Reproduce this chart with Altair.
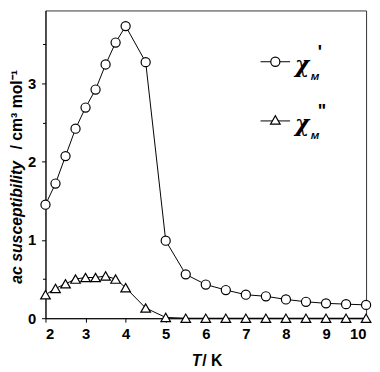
import altair as alt
import pandas as pd

T = [2, 2.25, 2.5, 2.75, 3, 3.25, 3.5, 3.75, 4, 4.5, 5, 5.5, 6, 6.5, 7, 7.5, 8, 8.5, 9, 9.5, 10]
chi_real = [1.45, 1.72, 2.07, 2.42, 2.69, 2.92, 3.24, 3.52, 3.73, 3.27, 0.99, 0.56, 0.43, 0.36, 0.30, 0.28, 0.24, 0.21, 0.19, 0.18, 0.17]
chi_imag = [0.30, 0.38, 0.44, 0.50, 0.52, 0.52, 0.54, 0.50, 0.39, 0.13, 0.01, 0.0, 0.0, 0.0, 0.0, 0.0, 0.0, 0.0, 0.0, 0.0, 0.0]

x_ticks = [2 + 0.25 * i for i in range(33)]
y_ticks = [0.25 * i for i in range(16)]

df = pd.DataFrame({"T": T, "re": chi_real, "im": chi_imag})

FONT = "Liberation Sans"
W, H = 325, 312
xs = alt.Scale(domain=[2, 10], nice=False, zero=False)
ys = alt.Scale(domain=[0, 3.93], nice=False, zero=False)

major_test = "abs(datum.value - round(datum.value)) < 0.001"
axis_common = dict(labelFont=FONT, labelFontSize=15, labelFontWeight="bold", labelColor="#000",
                   domainColor="#000", tickColor="#000", grid=False, title=None, labelOverlap=False,
                   labelExpr=f"{major_test} ? format(datum.value, 'd') : ''",
                   tickSize={"condition": {"test": major_test, "value": 4}, "value": 3})

base = alt.Chart(df)

x_enc = alt.X("T:Q", scale=xs, axis=alt.Axis(values=x_ticks, orient="bottom", labelPadding=5, **axis_common))
y_enc = alt.Y("re:Q", scale=ys, axis=alt.Axis(values=y_ticks, orient="left", labelPadding=6, **axis_common))

line_re = base.mark_line(color="#000", strokeWidth=1, clip=False).encode(x=x_enc, y=y_enc)
pts_re = base.mark_point(shape="circle", size=85, filled=True, fill="#fff", stroke="#000",
                         strokeWidth=1.2, opacity=1, clip=False).encode(x="T:Q", y="re:Q")
line_im = base.mark_line(color="#000", strokeWidth=1, clip=False).encode(x="T:Q", y="im:Q")
pts_im = base.mark_point(shape="triangle-up", size=95, filled=True, fill="#fff", stroke="#000",
                         strokeWidth=1.2, opacity=1, clip=False).encode(x="T:Q", y="im:Q")


def txt(s, x, y, font=FONT, **kw):
    return alt.Chart(pd.DataFrame({"t": [s]})).mark_text(font=font, fontWeight="bold", color="#000", **kw).encode(
        text="t:N", x=alt.value(x), y=alt.value(y))


# axis titles (mixed italic / upright)
xt1 = txt("T", 158, 355, fontSize=16, fontStyle="italic", align="right", baseline="middle")
xt2 = txt("/ K", 159, 355, fontSize=16, align="left", baseline="middle")
yt1 = txt("ac susceptibility", -29, 277, fontSize=16, fontStyle="italic", angle=270, align="left", baseline="middle")
yt2 = txt("/ cm³ mol⁻¹", -29, 141, fontSize=16, angle=270, align="left", baseline="middle")


# legend
def seg(x1, x2, y):
    return alt.Chart(pd.DataFrame({"a": [0]})).mark_rule(color="#000", strokeWidth=1).encode(
        x=alt.value(x1), x2=alt.value(x2), y=alt.value(y))


def sym(shape, x, y, size):
    return alt.Chart(pd.DataFrame({"a": [0]})).mark_point(shape=shape, size=size, filled=True, fill="#fff",
                                                           stroke="#000", strokeWidth=1.2, opacity=1).encode(
        x=alt.value(x), y=alt.value(y))


SERIF = "DejaVu Serif"
leg = [
    seg(218, 248, 52), sym("circle", 233, 52, 85),
    txt("χ", 253, 55, font=SERIF, fontSize=22, fontStyle="italic", align="left", baseline="middle"),
    txt("M", 269, 67, fontSize=10, fontStyle="italic", align="left", baseline="middle"),
    txt("'", 276, 43, fontSize=18, align="left", baseline="middle"),
    seg(218, 248, 112), sym("triangle-up", 233, 111, 95),
    txt("χ", 253, 115, font=SERIF, fontSize=22, fontStyle="italic", align="left", baseline="middle"),
    txt("M", 269, 127, fontSize=10, fontStyle="italic", align="left", baseline="middle"),
    txt("\"", 276, 103, fontSize=18, align="left", baseline="middle"),
]

chart = alt.layer(line_re, line_im, pts_re, pts_im, xt1, xt2, yt1, yt2, *leg).properties(
    width=W, height=H, autosize=alt.AutoSizeParams(type="none"),
    padding={"left": 38, "top": 0, "right": 6, "bottom": 50},
).configure_view(stroke="#333", strokeWidth=1)

chart.save("out.html", embed_options={"renderer": "svg", "actions": False})
